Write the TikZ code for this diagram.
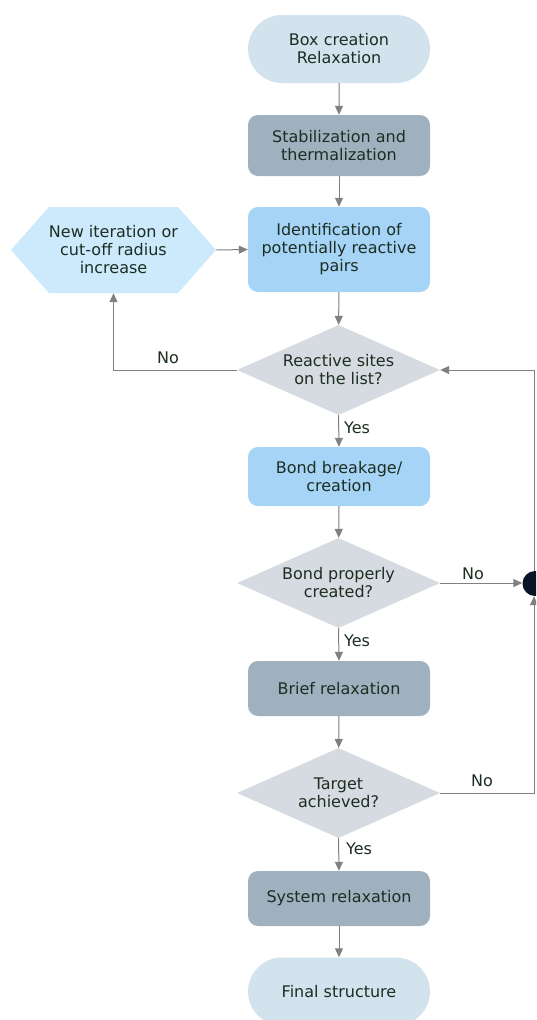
\documentclass[tikz,border=0pt]{standalone}
\usepackage{fontspec}
\setmainfont{DejaVu Sans}
\usetikzlibrary{shapes.geometric,shapes.symbols,shapes.misc,arrows.meta}
\definecolor{termcol}{HTML}{D3E3EE}
\definecolor{darkcol}{HTML}{9FB1BF}
\definecolor{bluecol}{HTML}{A6D4F7}
\definecolor{hexcol}{HTML}{CDEAFC}
\definecolor{diacol}{HTML}{D5DBE0}
\definecolor{txtcol}{HTML}{1C2E22}
\definecolor{linecol}{HTML}{808080}
\definecolor{dotcol}{HTML}{0A1428}
\tikzset{
  base/.style={inner sep=0pt, align=center, text=txtcol, font=\fontsize{16}{18}\selectfont},
  term/.style={base, rounded rectangle, fill=termcol, minimum width=182pt, minimum height=68pt},
  darkbox/.style={base, rectangle, rounded corners=10pt, fill=darkcol, minimum width=182pt},
  bluebox/.style={base, rectangle, rounded corners=10pt, fill=bluecol, minimum width=182pt},
  hexbox/.style={base, signal, signal to=west and east, signal pointer angle=97, fill=hexcol, minimum width=203pt, minimum height=86pt},
  decision/.style={base, diamond, aspect=2.25, fill=diacol, minimum width=203pt, minimum height=90pt},
  conn/.style={draw=linecol, line width=1pt, -{Triangle[length=9pt,width=8pt]}},
  lbl/.style={text=txtcol, font=\fontsize{16}{18}\selectfont, inner sep=0pt}
}
\begin{document}
\begin{tikzpicture}[x=1pt,y=-1pt]
\path[use as bounding box, clip] (0,0) rectangle (536,1020);
\node[term] (start) at (339,49) {Box creation\\Relaxation};
\node[darkbox, minimum height=61pt] (stab) at (339,145.5) {Stabilization and\\thermalization};
\node[bluebox, minimum height=85pt] (ident) at (339,249.5) {Identification of\\potentially reactive\\pairs};
\node[hexbox] (hex) at (113.5,250) {New iteration or\\cut-off radius\\increase};
\node[decision] (d1) at (338.5,370) {Reactive sites\\on the list?};
\node[bluebox, minimum height=59pt] (bond) at (339,476.5) {Bond breakage/\\creation};
\node[decision] (d2) at (338.5,583) {Bond properly\\created?};
\node[darkbox, minimum height=55pt] (brief) at (339,688.5) {Brief relaxation};
\node[decision] (d3) at (338.5,793) {Target\\achieved?};
\node[darkbox, minimum height=55pt] (sys) at (339,898.5) {System relaxation};
\node[term] (final) at (339,991.5) {Final structure};
\node[circle, fill=dotcol, minimum size=25pt, inner sep=0pt] (dot) at (535,583.5) {};
\coordinate (c1) at (113.5,370);
\coordinate (c2) at (534,370);
\coordinate (c3) at (534,793);

\draw[conn] (start) -- (stab);
\draw[conn] (stab) -- (ident);
\draw[conn] (hex.east) -- (ident.west);
\draw[conn] (ident) -- (d1);
\draw[conn] (d1.west) -- (c1) -- (hex.south);
\draw[conn] (d1.south) -- (bond.north);
\draw[conn] (bond) -- (d2);
\draw[conn] (d2.east) -- (d2.east -| dot.west);
\draw[conn] (dot.north -| c2) -- (c2) -- (d1.east);
\draw[conn] (d2.south) -- (brief.north);
\draw[conn] (brief) -- (d3);
\draw[conn] (d3.east) -- (c3) -- (dot.south -| c3);
\draw[conn] (d3.south) -- (sys.north);
\draw[conn] (sys) -- (final);

\node[lbl] (l1) at (168,358) {No};
\node[lbl] (l2) at (357,428) {Yes};
\node[lbl] (l3) at (473,574) {No};
\node[lbl] (l4) at (357,641) {Yes};
\node[lbl] (l5) at (482,781) {No};
\node[lbl] (l6) at (359,849) {Yes};
\end{tikzpicture}
\end{document}
